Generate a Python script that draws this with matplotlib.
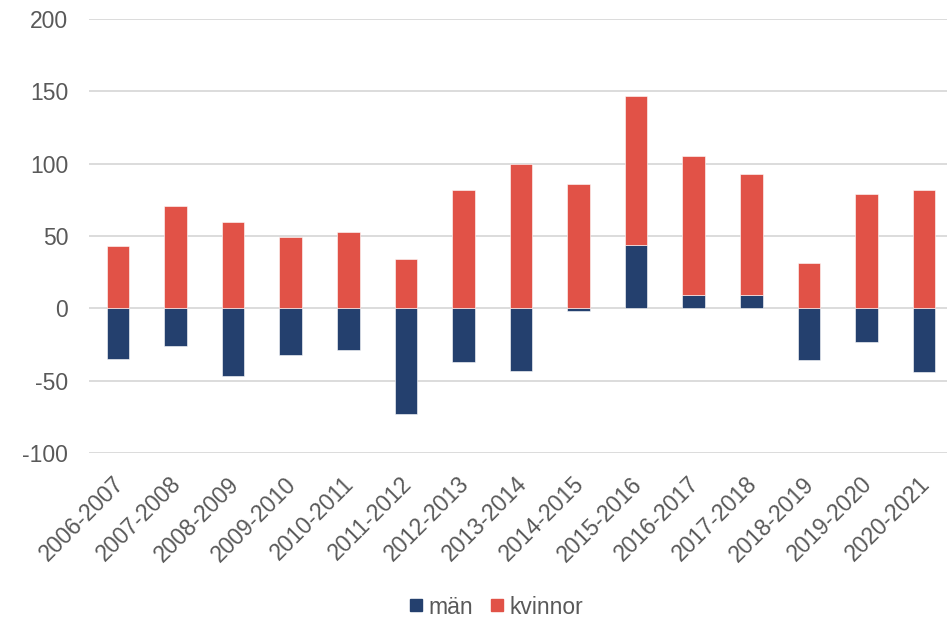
import matplotlib
matplotlib.use("Agg")
import matplotlib.pyplot as plt
import matplotlib.transforms as mtransforms
import numpy as np
from matplotlib.lines import Line2D

categories = ["2006-2007", "2007-2008", "2008-2009", "2009-2010", "2010-2011",
              "2011-2012", "2012-2013", "2013-2014", "2014-2015", "2015-2016",
              "2016-2017", "2017-2018", "2018-2019", "2019-2020", "2020-2021"]
man = [-35, -26, -47, -32, -29, -73, -37, -43, -2, 44, 9, 9, -36, -23, -44]
kvinnor = [43, 71, 60, 49, 53, 34, 82, 100, 86, 103, 96, 84, 31, 79, 82]
yticks = [-100, -50, 0, 50, 100, 150, 200]

plt.rcParams['font.family'] = ['Liberation Sans', 'DejaVu Sans']
navy = "#24406E"
red = "#E15247"
grey = "#595959"
fs = 16.5

fig = plt.figure(figsize=(9.47, 6.22), dpi=100)
ax = fig.add_axes([89.2/947, 1-453/622, 863.6/947, (453-19)/622])

x = np.arange(len(categories))
man_arr = np.array(man, dtype=float)
k_arr = np.array(kvinnor, dtype=float)
k_bottom = np.where(man_arr > 0, man_arr, 0)
w = 0.393
ax.bar(x, man_arr, width=w, color=navy, edgecolor="#ffffff", linewidth=0.4, zorder=3, label="män")
ax.bar(x, k_arr, width=w, bottom=k_bottom, color=red, edgecolor="#ffffff", linewidth=0.4, zorder=3, label="kvinnor")

ax.set_xlim(-0.5, len(categories) - 0.5)
ax.set_ylim(-100, 200)
ax.set_yticks(yticks)
ax.set_yticklabels([str(v) for v in yticks], fontsize=fs, color=grey)
ax.set_xticks(x)
ax.set_xticklabels(categories, rotation=45, ha="right", va="top", rotation_mode="anchor",
                   fontsize=fs, color=grey)
ax.tick_params(axis="both", length=0)
ax.tick_params(axis="y", pad=15)
ax.tick_params(axis="x", pad=14)
offset = mtransforms.ScaledTranslation(-6/100, 0, fig.dpi_scale_trans)
for lbl in ax.get_xticklabels():
    lbl.set_transform(lbl.get_transform() + offset)
ax.yaxis.grid(True, color="#D9D9D9", linewidth=1.3, zorder=0)
ax.set_axisbelow(True)
for s in ax.spines.values():
    s.set_visible(False)

handles = [Line2D([0], [0], marker="s", color="none", markerfacecolor=navy, markeredgecolor=navy, markersize=8.6),
           Line2D([0], [0], marker="s", color="none", markerfacecolor=red, markeredgecolor=red, markersize=8.6)]
fig.legend(handles, ["män", "kvinnor"], loc="center", bbox_to_anchor=(496.5/947, 1-607/622), ncol=2,
           frameon=False, fontsize=fs, labelcolor=grey, handletextpad=0.25, columnspacing=0.8,
           handlelength=0.55, borderpad=0, borderaxespad=0)

fig.savefig("out.png", dpi=100)
